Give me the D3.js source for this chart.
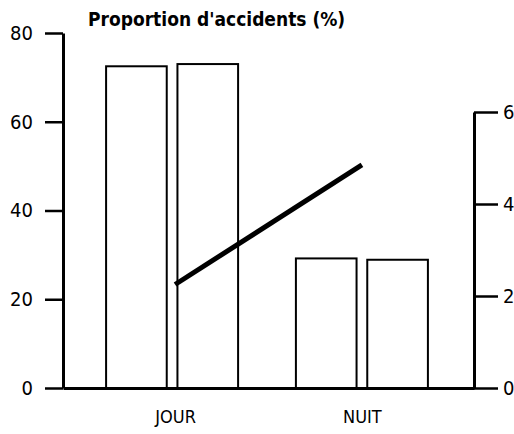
<!DOCTYPE html>
<html>
<head>
<meta charset="utf-8">
<script src="https://cdn.jsdelivr.net/npm/d3@7"></script>
<style>
  body { margin: 0; background: #fff; }
  svg text { font-family: "DejaVu Sans Condensed", "Liberation Sans", sans-serif; font-stretch: condensed; fill: #000; }
</style>
</head>
<body>
<div id="chart"></div>
<script>
const WIDTH  = 514;
const HEIGHT = 434;

// data
const categories  = ["JOUR", "NUIT"];
const series      = ["série 1", "série 2"];
const barValues   = [[72.5, 73], [29.2, 28.9]];   // proportion d'accidents (%)
const lineValues  = [2.25, 4.85];                 // right axis
const leftTicks   = [0, 20, 40, 60, 80];
const rightTicks  = [0, 2, 4, 6];

const X0 = 63, X1 = 474, Y0 = 388;

const svg = d3.select("#chart").append("svg")
  .attr("width", WIDTH).attr("height", HEIGHT);

const x = d3.scalePoint().domain(categories).range([X0, X1]).padding(0.6);
const xs = d3.scaleBand().domain(series).range([-66, 66]).paddingInner(0.15);
const y = d3.scaleLinear().domain([0, 80]).range([Y0, 33]);
const y2 = d3.scaleLinear().domain([0, 6]).range([Y0, 112]);

// bars
const groups = svg.append("g").selectAll("g")
  .data(categories).join("g")
  .attr("transform", d => `translate(${x(d) - (d === "JOUR" ? 3 : 0)},0)`);

groups.selectAll("rect")
  .data((d, i) => series.map((s, j) => ({ s, v: barValues[i][j] })))
  .join("rect")
  .attr("x", d => xs(d.s))
  .attr("width", xs.bandwidth())
  .attr("y", d => y(d.v))
  .attr("height", d => Y0 - y(d.v))
  .attr("fill", "#fff")
  .attr("stroke", "#000")
  .attr("stroke-width", 2);

// line on right scale
svg.append("path")
  .datum(categories.map((c, i) => [x(c), y2(lineValues[i])]))
  .attr("d", d3.line())
  .attr("fill", "none")
  .attr("stroke", "#000")
  .attr("stroke-width", 5);

// left axis
const gl = svg.append("g")
  .attr("transform", `translate(${X0},0)`)
  .call(d3.axisLeft(y).tickValues(leftTicks).tickFormat(d3.format("d"))
    .tickSize(18).tickSizeOuter(0).tickPadding(12));

// right axis
const gr = svg.append("g")
  .attr("transform", `translate(${X1},0)`)
  .call(d3.axisRight(y2).tickValues(rightTicks).tickFormat(d3.format("d"))
    .tickSize(24).tickSizeOuter(0).tickPadding(5));

// bottom axis
const gb = svg.append("g")
  .attr("transform", `translate(0,${Y0})`)
  .call(d3.axisBottom(x).tickSize(0).tickSizeOuter(0).tickPadding(22));

[gl, gr, gb].forEach(g => {
  g.select(".domain").attr("stroke", "#000").attr("stroke-width", 3);
  g.selectAll(".tick line").attr("stroke", "#000").attr("stroke-width", 2.5);
  g.selectAll(".tick text").style("font-size", "20px").style("font-family", null);
});
gb.selectAll(".tick text").style("font-size", "18px");

svg.append("text")
  .attr("x", 88).attr("y", 26)
  .style("font-size", "19px")
  .style("font-weight", "bold")
  .text("Proportion d'accidents (%)");
</script>
</body>
</html>
